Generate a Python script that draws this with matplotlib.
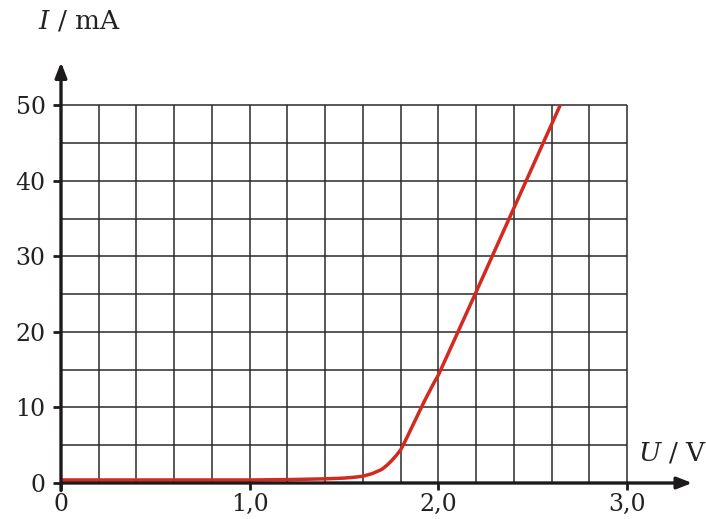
import numpy as np
import matplotlib.pyplot as plt

# diode characteristic
U = [0.0, 0.5, 1.0, 1.2, 1.4, 1.5, 1.55, 1.6, 1.65, 1.7, 1.725, 1.75, 1.775, 1.8, 1.825,
     1.85, 1.875, 1.9, 1.925, 1.95, 1.975, 2.0, 2.2, 2.4, 2.645]
I = [0.4, 0.4, 0.4, 0.45, 0.55, 0.65, 0.75, 0.9, 1.25, 1.8, 2.3, 2.9, 3.6, 4.4, 5.6,
     6.9, 8.2, 9.5, 10.8, 12.0, 13.2, 14.3, 25.3, 36.4, 50.0]

x_ticks = [0, 1, 2, 3]
x_labels = ['0', '1,0', '2,0', '3,0']
y_ticks = [0, 10, 20, 30, 40, 50]
y_labels = ['0', '10', '20', '30', '40', '50']

plt.rcParams['font.family'] = 'DejaVu Serif'
plt.rcParams['mathtext.fontset'] = 'dejavuserif'

fig = plt.figure(figsize=(7.06, 5.19), dpi=100)
ax = fig.add_axes([61 / 706, 36 / 519, 641.6 / 706, 423 / 519])
ax.set_xlim(0, 3.4)
ax.set_ylim(0, 56)
for s in ax.spines.values():
    s.set_visible(False)

axis_col = '#1c1a1a'
grid_col = '#2a2a2a'

# grid
ax.vlines(np.arange(0.2, 3.01, 0.2), 0, 50, color=grid_col, lw=1.1, zorder=1)
ax.hlines(np.arange(5, 50.1, 5), 0, 3.0, color=grid_col, lw=1.1, zorder=1)

# curve
ax.plot(U, I, color='#d3291f', lw=2.5, solid_capstyle='butt', solid_joinstyle='round', zorder=3)

# axes with arrows
ax.annotate('', xy=(3.345, 0), xytext=(0, 0), annotation_clip=False,
            arrowprops=dict(arrowstyle='-|>,head_length=0.9,head_width=0.35',
                            lw=2.4, color=axis_col, shrinkA=0, shrinkB=0), zorder=4)
ax.annotate('', xy=(0, 55.7), xytext=(0, -1.0), annotation_clip=False,
            arrowprops=dict(arrowstyle='-|>,head_length=0.9,head_width=0.35',
                            lw=2.4, color=axis_col, shrinkA=0, shrinkB=0), zorder=4)

ax.set_xticks(x_ticks, x_labels)
ax.set_yticks(y_ticks, y_labels)
ax.tick_params(axis='both', direction='out', width=2, color=axis_col,
               labelsize=17, labelcolor='#222222')
ax.tick_params(axis='x', length=5, pad=2)
ax.tick_params(axis='y', length=6, pad=5)

fig.text(38 / 706, 1 - 21 / 519, r'$I$ / mA', fontsize=19, va='center', ha='left', color='#222222')
fig.text(638 / 706, 1 - 453 / 519, r'$U$ / V', fontsize=19, va='center', ha='left', color='#222222')

plt.savefig('out.png', dpi=100)
